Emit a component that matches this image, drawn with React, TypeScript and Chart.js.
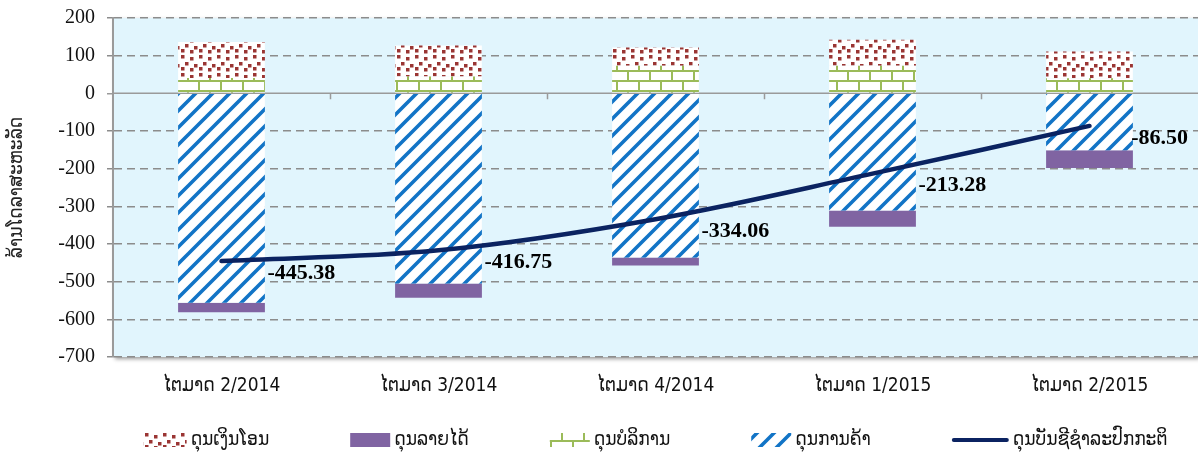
import React, { useEffect, useRef } from 'react';
import { Chart, registerables } from 'chart.js';

Chart.register(...registerables);

const categories = ['ໄຕມາດ 2/2014', 'ໄຕມາດ 3/2014', 'ໄຕມາດ 4/2014', 'ໄຕມາດ 1/2015', 'ໄຕມາດ 2/2015'];
const remittance = [95, 82, 49, 69, 71];
const income = [-25, -38, -21, -43, -47];
const services = [41, 45, 73, 73, 40];
const trade = [-556, -505, -436, -311, -151];
const currentAccount = [-445.38, -416.75, -334.06, -213.28, -86.5];
const seriesNames = ['ດຸນເງິນໂອນ', 'ດຸນລາຍໄດ້', 'ດຸນບໍລິການ', 'ດຸນການຄ້າ', 'ດຸນບັນຊີຊຳລະປົກກະຕິ'];
const yTitle = 'ລ້ານໂດລາສະຫະລັດ';
const yMin = -700;
const yMax = 200;
const yStep = 100;

const LAO_FONT = "'DejaVu Sans Condensed', 'DejaVu Sans', sans-serif";
const SERIF = "'Liberation Serif', 'Times New Roman', serif";
const NAVY = '#0B2361';
const PURPLE = '#8064A2';
const GREEN = '#9BBB59';
const BLUE = '#1274C6';
const RED = '#9A3533';

function tile(w: number, h: number, draw: (g: CanvasRenderingContext2D) => void) {
  const c = document.createElement('canvas');
  c.width = w;
  c.height = h;
  const g = c.getContext('2d')!;
  g.fillStyle = '#ffffff';
  g.fillRect(0, 0, w, h);
  draw(g);
  return c;
}

function makePatterns(ctx: CanvasRenderingContext2D) {
  const stripe = tile(17, 17, (g) => {
    g.strokeStyle = BLUE;
    g.lineWidth = 3.6;
    g.beginPath();
    for (const off of [-17, 0, 17]) {
      g.moveTo(off - 3, 20);
      g.lineTo(off + 20, -3);
    }
    g.stroke();
  });
  const confetti = tile(18, 18, (g) => {
    g.fillStyle = RED;
    const sq = [[1, 1], [10, 3], [5, 8], [14, 10], [1, 13], [10, 14]];
    for (const [x, y] of sq) g.fillRect(x, y, 3.5, 3.5);
  });
  const brick = tile(22, 20, (g) => {
    g.strokeStyle = GREEN;
    g.lineWidth = 2;
    g.beginPath();
    g.moveTo(0, 1); g.lineTo(22, 1);
    g.moveTo(0, 11); g.lineTo(22, 11);
    g.moveTo(1, 1); g.lineTo(1, 11);
    g.moveTo(12, 11); g.lineTo(12, 21);
    g.stroke();
  });
  return {
    stripe: ctx.createPattern(stripe, 'repeat')!,
    confetti: ctx.createPattern(confetti, 'repeat')!,
    brick: ctx.createPattern(brick, 'repeat')!,
  };
}

export default function App() {
  const ref = useRef<HTMLCanvasElement>(null);

  useEffect(() => {
    document.body.style.margin = '0';
    const canvas = ref.current!;
    const ctx = canvas.getContext('2d')!;
    const pats = makePatterns(ctx);

    const bgPlugin = {
      id: 'plotBg',
      beforeDraw(chart: any) {
        const { ctx: c, chartArea: a } = chart;
        c.save();
        c.shadowColor = 'rgba(0,0,0,0.4)';
        c.shadowBlur = 4;
        c.shadowOffsetX = 2;
        c.shadowOffsetY = 2;
        c.fillStyle = '#E1F5FD';
        c.fillRect(a.left, a.top, a.right - a.left, a.bottom - a.top);
        c.restore();
      },
    };

    const zeroPlugin = {
      id: 'zeroLine',
      beforeDatasetsDraw(chart: any) {
        const { ctx: c, chartArea: a, scales } = chart;
        const y0 = scales.y.getPixelForValue(0);
        const n = categories.length;
        const w = (a.right - a.left) / n;
        c.save();
        c.strokeStyle = '#9A9A9A';
        c.lineWidth = 1.5;
        c.beginPath();
        c.moveTo(a.left, y0);
        c.lineTo(a.right, y0);
        for (let k = 1; k < n; k++) {
          const x = Math.round(a.left + w * k) + 0.5;
          c.moveTo(x, y0);
          c.lineTo(x, y0 + 6);
        }
        c.stroke();
        c.restore();
      },
    };

    const labelPlugin = {
      id: 'lineLabels',
      afterDatasetsDraw(chart: any) {
        const { ctx: c, chartArea: a } = chart;
        const meta = chart.getDatasetMeta(4);
        c.save();
        c.font = `bold 22px ${SERIF}`;
        c.fillStyle = '#000';
        c.textBaseline = 'middle';
        c.textAlign = 'left';
        meta.data.forEach((pt: any, i: number) => {
          const txt = currentAccount[i].toFixed(2);
          const tw = c.measureText(txt).width;
          const x = Math.min(pt.x + 46, a.right - tw - 10);
          c.fillText(txt, x, pt.y + 12);
        });
        c.restore();
      },
    };

    const legendPlugin = {
      id: 'customLegend',
      afterDraw(chart: any) {
        const { ctx: c, chartArea: a } = chart;
        const fills = [pats.confetti, PURPLE, pats.brick, pats.stripe, null];
        const boxW = [43, 40, 40, 40, 57];
        c.save();
        c.font = `19px ${LAO_FONT}`;
        const textW = seriesNames.map((s) => c.measureText(s).width);
        const gap = 81;
        const widths = seriesNames.map((_, i) => boxW[i] + 4 + textW[i]);
        const total = widths.reduce((s, v) => s + v, 0) + gap * (seriesNames.length - 1);
        let x = (a.left + a.right) / 2 - total / 2;
        const yc = 440;
        seriesNames.forEach((name, i) => {
          if (fills[i]) {
            c.fillStyle = fills[i] as any;
            c.fillRect(x, yc - 7, boxW[i], 14);
          } else {
            c.strokeStyle = NAVY;
            c.lineWidth = 4;
            c.lineCap = 'round';
            c.beginPath();
            c.moveTo(x + 2, yc);
            c.lineTo(x + boxW[i] - 2, yc);
            c.stroke();
          }
          c.fillStyle = '#111';
          c.textBaseline = 'middle';
          c.textAlign = 'left';
          c.fillText(name, x + boxW[i] + 4, yc);
          x += widths[i] + gap;
        });
        c.restore();
      },
    };

    const chart = new Chart(canvas, {
      data: {
        labels: categories,
        datasets: [
          { type: 'bar', label: seriesNames[3], data: trade, backgroundColor: pats.stripe as any, order: 1 },
          { type: 'bar', label: seriesNames[2], data: services, backgroundColor: pats.brick as any, order: 1 },
          { type: 'bar', label: seriesNames[1], data: income, backgroundColor: PURPLE, order: 1 },
          { type: 'bar', label: seriesNames[0], data: remittance, backgroundColor: pats.confetti as any, order: 1 },
          {
            type: 'line',
            label: seriesNames[4],
            data: currentAccount,
            borderColor: NAVY,
            borderWidth: 4.5,
            pointRadius: 0,
            tension: 0.35,
            borderCapStyle: 'round',
            order: 0,
          } as any,
        ],
      },
      options: {
        responsive: false,
        animation: false,
        devicePixelRatio: 1,
        layout: { padding: { top: 18, bottom: 57, left: 0, right: 0 } },
        datasets: { bar: { barPercentage: 0.4, categoryPercentage: 1 } } as any,
        plugins: {
          legend: { display: false },
          tooltip: { enabled: false },
        },
        scales: {
          x: {
            stacked: true,
            grid: { display: false, drawTicks: false },
            border: { display: false },
            ticks: { font: { family: LAO_FONT, size: 19 }, color: '#111', padding: 18, maxRotation: 0 },
            afterFit: (s: any) => { s.height = 40; },
          },
          y: {
            stacked: true,
            min: yMin,
            max: yMax,
            ticks: { stepSize: yStep, font: { family: SERIF, size: 20 }, color: '#111', padding: 12 },
            grid: {
              color: (c: any) => (c.tick && c.tick.value === 0 ? 'rgba(0,0,0,0)' : '#8C8C8C'),
              lineWidth: 1.5,
              tickLength: 6,
              tickColor: (c: any) => (c.tick && c.tick.value === 0 ? '#9A9A9A' : '#8C8C8C'),
              tickWidth: 1.5,
            },
            border: { display: true, color: '#9A9A9A', width: 2, dash: [8, 5] },
            title: {
              display: true,
              text: yTitle,
              font: { family: LAO_FONT, size: 19 },
              color: '#222',
              padding: { top: 6, bottom: 0 },
            },
            afterFit: (s: any) => {
              s.width = 113;
              s.paddingTop = 8;
              s.paddingBottom = 8;
            },
          },
        },
      },
      plugins: [bgPlugin, zeroPlugin, labelPlugin, legendPlugin],
    } as any);

    return () => chart.destroy();
  }, []);

  return (
    <div style={{ width: 1198, height: 454 }}>
      <canvas ref={ref} width={1198} height={454} style={{ display: 'block' }} />
    </div>
  );
}
